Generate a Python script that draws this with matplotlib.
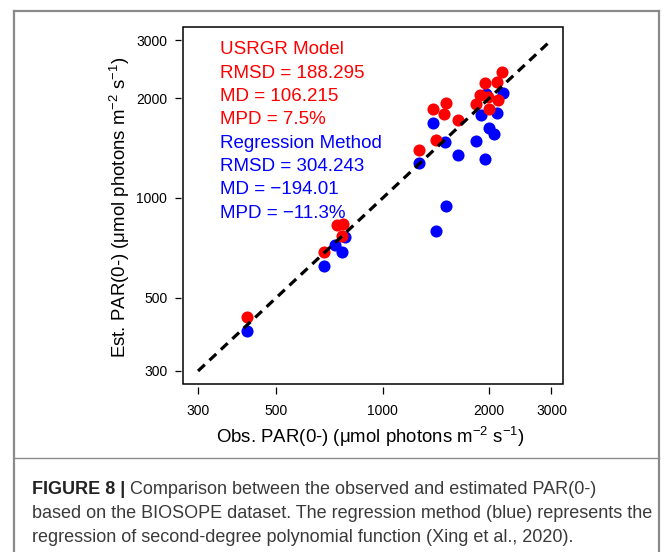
import matplotlib
matplotlib.use('Agg')
import matplotlib.pyplot as plt
from matplotlib.patches import Rectangle
from matplotlib.lines import Line2D
from matplotlib.ticker import NullLocator, FixedLocator, FixedFormatter
from matplotlib import font_manager as fm

plt.rcParams['font.family'] = ['Liberation Sans', 'DejaVu Sans']
plt.rcParams['mathtext.default'] = 'regular'

# ---------------- data ----------------
obs_usrgr = [2176, 1940, 2107, 1878, 1983, 2115, 1830, 1995, 1506, 1383,
             1489, 1631, 1411, 1265, 740, 772, 764, 683, 412]
est_usrgr = [2406, 2220, 2245, 2046, 2022, 1976, 1922, 1852, 1940, 1852,
             1793, 1720, 1491, 1399, 828, 836, 767, 688, 438]

obs_reg = [2185, 2107, 1890, 1995, 2058, 1830, 1940, 1631, 1496, 1383,
           1265, 1506, 1411, 781, 731, 764, 681, 413, 1960]
est_reg = [2080, 1809, 1781, 1623, 1557, 1489, 1314, 1346, 1471, 1681,
           1278, 945, 796, 764, 721, 686, 621, 396, 2060]

one_to_one = [300, 3000]
x_ticks = [300, 500, 1000, 2000, 3000]
y_ticks = [300, 500, 1000, 2000, 3000]
x_tick_labels = ["300", "500", "1000", "2000", "3000"]
y_tick_labels = ["300", "500", "1000", "2000", "3000"]

usrgr_stats = ["USRGR Model", "RMSD = 188.295", "MD = 106.215", "MPD = 7.5%"]
reg_stats = ["Regression Method", "RMSD = 304.243", "MD = \u2212194.01", "MPD = \u221211.3%"]

x_label = "Obs. PAR(0-) (\u03bcmol photons m$^{-2}$ s$^{-1}$)"
y_label = "Est. PAR(0-) (\u03bcmol photons m$^{-2}$ s$^{-1}$)"

cap_bold = "FIGURE 8 | "
cap_lines = ["Comparison between the observed and estimated PAR(0-)",
             "based on the BIOSOPE dataset. The regression method (blue) represents the",
             "regression of second-degree polynomial function (Xing et al., 2020)."]

# ---------------- figure ----------------
W, H = 665, 552
fig = plt.figure(figsize=(W / 100, H / 100), dpi=100)
fig.patch.set_facecolor('white')

def fx(px):
    return px / W

def fy(py):
    return 1 - py / H

ax = fig.add_axes([fx(183), fy(384), (563 - 183) / W, (384 - 27) / H])
ax.set_xscale('log')
ax.set_yscale('log')
ax.set_xlim(272, 3235)
ax.set_ylim(274, 3284)

ax.scatter(obs_reg, est_reg, s=76, color='#0000FF', linewidths=0, zorder=2)
ax.scatter(obs_usrgr, est_usrgr, s=76, color='#FF0000', linewidths=0, zorder=3)
ax.plot(one_to_one, one_to_one, color='black', lw=2.3, ls=(0, (2.9, 2.0)),
        dash_capstyle='butt', zorder=4)

for a in (ax.xaxis, ax.yaxis):
    a.set_minor_locator(NullLocator())
ax.xaxis.set_major_locator(FixedLocator(x_ticks))
ax.xaxis.set_major_formatter(FixedFormatter(x_tick_labels))
ax.yaxis.set_major_locator(FixedLocator(y_ticks))
ax.yaxis.set_major_formatter(FixedFormatter(y_tick_labels))

for s in ax.spines.values():
    s.set_visible(False)
ax.spines['bottom'].set_position(('outward', 2.2))
ax.spines['left'].set_position(('outward', 1.8))
ax.add_patch(Rectangle((0, 0), 1, 1, transform=ax.transAxes, fill=False,
                       lw=1.1, ec='black', clip_on=False, zorder=5))
ax.tick_params(axis='x', direction='out', length=5, width=0.9, pad=7, labelsize=10)
ax.tick_params(axis='y', direction='out', length=4.5, width=0.9, pad=5, labelsize=10)

# stats text
y0 = 50
step = 23.3
for i, t in enumerate(usrgr_stats + reg_stats):
    col = '#FF0000' if i < 4 else '#0000FF'
    fig.text(fx(220), fy(y0 + i * step), t, color=col, fontsize=13.5,
             ha='left', va='center')

fig.text(fx(370), fy(437), x_label, fontsize=13.4, ha='center', va='center')
fig.text(fx(120), fy(207), y_label, fontsize=13.4, ha='center', va='center',
         rotation=90)

# frame
frame_col = '#8a8a8a'
fig.add_artist(Line2D([fx(14), fx(14)], [fy(11), 0], color=frame_col, lw=1.6))
fig.add_artist(Line2D([fx(659), fx(659)], [fy(11), 0], color=frame_col, lw=1.6))
fig.add_artist(Line2D([fx(14), fx(659)], [fy(11), fy(11)], color=frame_col, lw=1.6))
fig.add_artist(Line2D([fx(14), fx(659)], [fy(458), fy(458)], color=frame_col, lw=1.0))

# caption, fitted to reference width
names = {f.name for f in fm.fontManager.ttflist}
cap_font = 'Liberation Sans Narrow' if 'Liberation Sans Narrow' in names else 'Liberation Sans'
renderer = fig.canvas.get_renderer()
probe = fig.text(0, 0, cap_lines[1], fontsize=12, family=cap_font)
w = probe.get_window_extent(renderer).width
probe.remove()
cap_fs = 12 * 619 / w
cap_col = '#3a3a3a'
cap_y = [490, 514, 538]
tb = fig.text(fx(32), fy(cap_y[0]), cap_bold, fontsize=cap_fs, family=cap_font,
              weight='bold', color='#222222', ha='left', va='center')
bw = tb.get_window_extent(renderer).width
fig.text(fx(32 + bw), fy(cap_y[0]), cap_lines[0], fontsize=cap_fs, family=cap_font,
         color=cap_col, ha='left', va='center')
for line, yy in zip(cap_lines[1:], cap_y[1:]):
    fig.text(fx(32), fy(yy), line, fontsize=cap_fs, family=cap_font,
             color=cap_col, ha='left', va='center')

fig.savefig('out.png', dpi=100)
